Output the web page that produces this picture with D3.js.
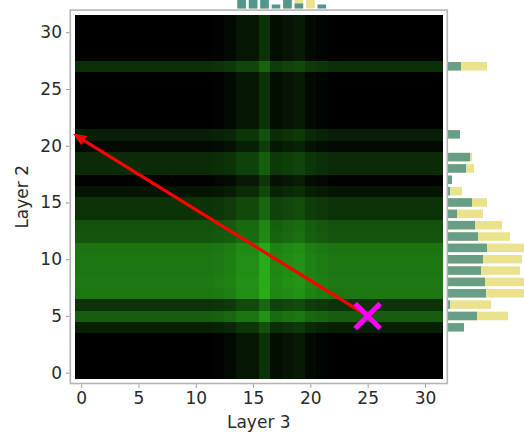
<!DOCTYPE html>
<html><head><meta charset="utf-8">
<script src="https://cdn.jsdelivr.net/npm/d3@7"></script>
<style>html,body{margin:0;padding:0;background:#fff;}svg{display:block;}</style>
</head><body>
<svg id="c" width="524" height="434"></svg>
<script>
// ---- data ----
const N = 32;
// heatmap row (Layer 2) intensities, index = row 0..31
const rowIntensity = [0,0,0,0,0.18,0.55,0.3,0.7,0.72,0.7,0.7,0.68,0.5,0.48,0.3,0.3,0.12,0.02,0.25,0.25,0.05,0.18,0,0,0,0,0,0.28,0,0,0,0];
// heatmap column (Layer 3) intensities, index = col 0..31
const colIntensity = [0,0,0,0,0,0,0,0,0,0,0,0,0.02,0.05,0.13,0.13,0.3,0.08,0.12,0.15,0.06,0.03,0,0,0,0,0,0,0,0,0,0];
// right marginal histogram (per row)
const rightTeal   = [0,0,0,0,16,29,2,38,37,33,35,39,30,27,9,24,2,4,18,22,0,12,0,0,0,0,0,13,0,0,0,0];
const rightYellow = [0,0,0,0,0,60,43,80,80,72,74,80,62,54,35,39,14,0,26,24,0,0,0,0,0,0,0,39,0,0,0,0];
// top marginal histogram (per column)
const topTeal   = [0,0,0,0,0,0,0,0,0,0,0,0,0,0,25,25,30,4,25,5,0,4,0,0,0,0,0,0,0,0,0,0];
const topYellow = [0,0,0,0,0,0,0,0,0,0,0,0,0,0,30,30,35,0,30,30,28,0,0,0,0,0,0,0,0,0,0,0];
const xTicks = [0,5,10,15,20,25,30];
const yTicks = [0,5,10,15,20,25,30];
const arrowFrom = [25,5];
const arrowTo = [-0.7,21.05];
const marker = [25,5];
const xLabel = "Layer 3", yLabel = "Layer 2";

// ---- drawing ----
const svg = d3.select("#c");
const x = d3.scaleLinear().domain([-0.95,31.95]).range([70.3,447.3]);
const y = d3.scaleLinear().domain([-0.95,31.95]).range([383.5,10.1]);
const cmap = v => { v = Math.max(0, Math.min(1, v)); return d3.rgb(40*v, 170*v, 25*v).toString(); };
const FONT = "DejaVu Sans, sans-serif";

// top histogram (drawn first, partly off-canvas)
const hy = d3.scaleLinear().domain([0,100]).range([8.5,-91.5]);
const cols = d3.range(N);
svg.append("g").selectAll("rect.ty").data(cols).join("rect")
  .attr("x", j => x(j-0.375)).attr("width", j => x(j+0.375)-x(j-0.375))
  .attr("y", j => hy(topYellow[j])).attr("height", j => hy(0)-hy(topYellow[j]))
  .attr("fill", "#e9e28f");
svg.append("g").selectAll("rect.tt").data(cols).join("rect")
  .attr("x", j => x(j-0.375)).attr("width", j => x(j+0.375)-x(j-0.375))
  .attr("y", j => hy(topTeal[j])).attr("height", j => hy(0)-hy(topTeal[j]))
  .attr("fill", "#52968e");

// right histogram
const hx = d3.scaleLinear().domain([0,100]).range([448,548]);
const rows = d3.range(N);
svg.append("g").selectAll("rect").data(rows).join("rect")
  .attr("x", hx(0)).attr("width", i => hx(rightYellow[i])-hx(0))
  .attr("y", i => y(i+0.375)).attr("height", i => y(i-0.375)-y(i+0.375))
  .attr("fill", "#ebe28e");
svg.append("g").selectAll("rect").data(rows).join("rect")
  .attr("x", hx(0)).attr("width", i => hx(rightTeal[i])-hx(0))
  .attr("y", i => y(i+0.375)).attr("height", i => y(i-0.375)-y(i+0.375))
  .attr("fill", "#689e86");

// heatmap
const cells = d3.cross(rows, cols);
svg.append("g").attr("shape-rendering","crispEdges").selectAll("rect").data(cells).join("rect")
  .attr("x", d => x(d[1]-0.5)).attr("width", d => x(d[1]+0.5)-x(d[1]-0.5)+0.5)
  .attr("y", d => y(d[0]+0.5)).attr("height", d => y(d[0]-0.5)-y(d[0]+0.5)+0.5)
  .attr("fill", d => cmap(rowIntensity[d[0]] + colIntensity[d[1]]));

// frame
svg.append("rect").attr("x", x(-0.95)).attr("y", y(31.95))
  .attr("width", x(31.95)-x(-0.95)).attr("height", y(-0.95)-y(31.95))
  .attr("fill","none").attr("stroke","#b4b4b4").attr("stroke-width",1.6);

// axes
const gx = svg.append("g").attr("transform", `translate(0,${y(-0.95)+0.8})`)
  .call(d3.axisBottom(x).tickValues(xTicks).tickSize(3.5).tickPadding(4));
const gy = svg.append("g").attr("transform", `translate(${x(-0.95)-0.8},0)`)
  .call(d3.axisLeft(y).tickValues(yTicks).tickSize(3.5).tickPadding(4));
[gx,gy].forEach(g => {
  g.select(".domain").remove();
  g.selectAll(".tick line").attr("stroke","#999");
  g.selectAll(".tick text").attr("font-family",FONT).attr("font-size","17px").attr("fill","#2a2a2a");
});
svg.append("text").attr("x", (x(-0.5)+x(31.5))/2).attr("y", 428)
  .attr("text-anchor","middle").attr("font-family",FONT).attr("font-size","17px").attr("fill","#2a2a2a").text(xLabel);
svg.append("text").attr("transform", `translate(28,${(y(-0.5)+y(31.5))/2}) rotate(-90)`)
  .attr("text-anchor","middle").attr("font-family",FONT).attr("font-size","17px").attr("fill","#2a2a2a").text(yLabel);

// arrow
const x0 = x(arrowFrom[0]), y0 = y(arrowFrom[1]), x1 = x(arrowTo[0]), y1 = y(arrowTo[1]);
const dx = x1-x0, dy = y1-y0, L = Math.hypot(dx,dy), ux = dx/L, uy = dy/L;
const hl = 13, hw = 5.5;
const bx = x1 - ux*hl, by = y1 - uy*hl;
svg.append("line").attr("x1",x0).attr("y1",y0).attr("x2",bx+ux*2).attr("y2",by+uy*2)
  .attr("stroke","#ff0000").attr("stroke-width",3.2);
svg.append("path").attr("d", `M${x1},${y1}L${bx - uy*hw},${by + ux*hw}L${bx + uy*hw},${by - ux*hw}Z`)
  .attr("fill","#ff0000");

// marker X
const mx = x(marker[0]), my = y(marker[1]), s = 12.5;
svg.append("path").attr("d", `M${mx-s},${my-s}L${mx+s},${my+s}M${mx-s},${my+s}L${mx+s},${my-s}`)
  .attr("stroke","#ff00ff").attr("stroke-width",5).attr("fill","none");
</script>
</body></html>
